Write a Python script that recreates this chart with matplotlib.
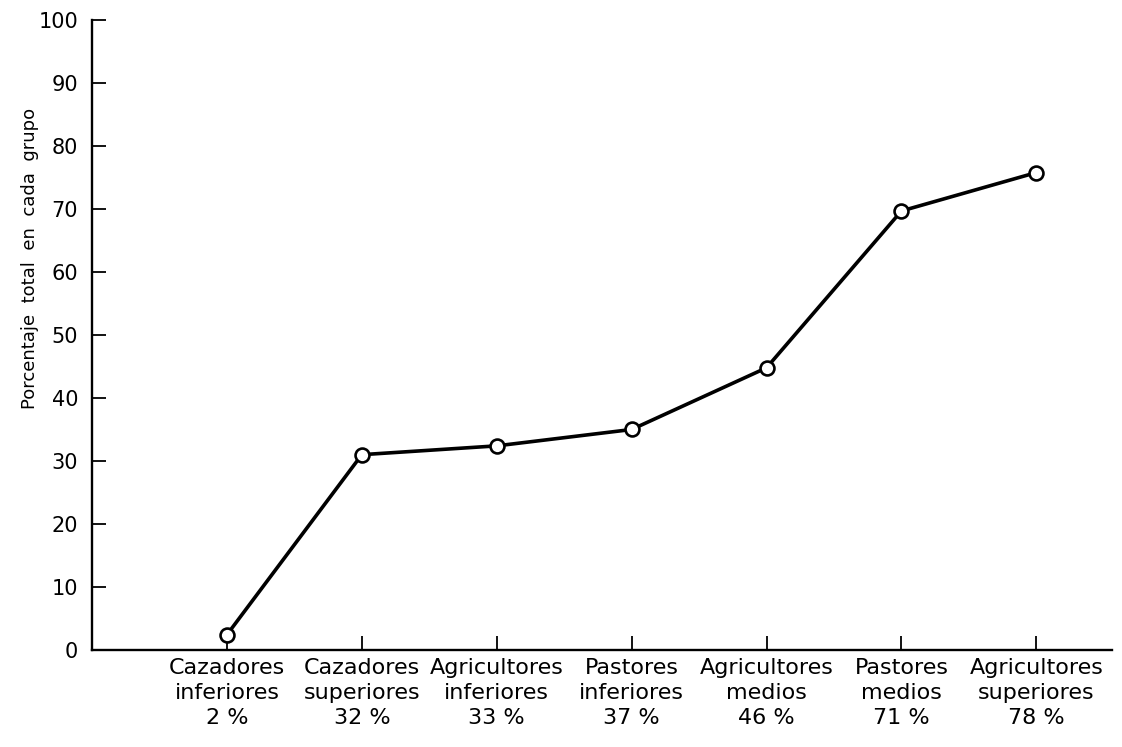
import numpy as np
import matplotlib
matplotlib.use("Agg")
import matplotlib.pyplot as plt

# categories (x) and plotted values
groupNames = ["Cazadores\ninferiores", "Cazadores\nsuperiores", "Agricultores\ninferiores",
              "Pastores\ninferiores", "Agricultores\nmedios", "Pastores\nmedios",
              "Agricultores\nsuperiores"]
groupPct   = ["2 %", "32 %", "33 %", "37 %", "46 %", "71 %", "78 %"]
values     = [2.4, 31.0, 32.4, 35.0, 44.8, 69.7, 75.8]
yTicks     = list(range(0, 101, 10))

plt.rcParams['font.family'] = ['DejaVu Sans']

fig = plt.figure(figsize=(11.22, 7.47), dpi=100)
ax = fig.add_axes([0.082, 0.13, 0.909, 0.843])

xPos = np.arange(1, len(values) + 1)
ax.plot(xPos, values, color="black", lw=2.6, marker="o", markersize=10,
        markerfacecolor="white", markeredgecolor="black", markeredgewidth=1.9,
        clip_on=False, zorder=3)

ax.set_xlim(0, 7.56)
ax.set_ylim(0, 100)
ax.spines["top"].set_visible(False)
ax.spines["right"].set_visible(False)
ax.spines["left"].set_linewidth(1.7)
ax.spines["bottom"].set_linewidth(1.7)

ax.set_yticks(yTicks)
ax.tick_params(axis="y", direction="in", length=10, width=1.3, labelsize=15, pad=10)
ax.set_xticks(xPos)
ax.set_xticklabels([n + "\n" + p for n, p in zip(groupNames, groupPct)],
                   fontsize=16, linespacing=1.3)
ax.tick_params(axis="x", direction="in", length=10, width=1.3, pad=6)

fig.text(30 / 1122, 1 - 258 / 747, "Porcentaje  total  en  cada  grupo",
         rotation=90, fontsize=13, ha="center", va="center")

fig.savefig("out.png", dpi=100)
